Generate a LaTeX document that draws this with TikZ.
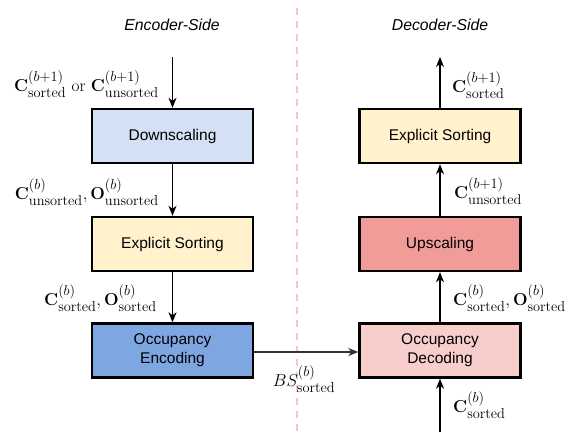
\documentclass[tikz,border=0pt]{standalone}
\usepackage[no-math]{fontspec}
\setmainfont{Liberation Sans}
\usetikzlibrary{arrows.meta}
\definecolor{cdown}{HTML}{D4E1F5}
\definecolor{csort}{HTML}{FFF2CC}
\definecolor{cenc}{HTML}{7EA6E0}
\definecolor{cup}{HTML}{F19C99}
\definecolor{cdec}{HTML}{F8CECC}
\definecolor{cdash}{HTML}{F4C7CC}
\newcommand{\so}{\mathrm{sorted}}
\newcommand{\us}{\mathrm{unsorted}}
\tikzset{
  blk/.style={draw=black, line width=2.4pt, minimum width=161pt, minimum height=54pt, align=center, font=\fontsize{15.5}{18}\selectfont, inner sep=0pt},
  flow/.style={line width=1.3pt, -{Stealth[length=10pt,width=8pt,inset=3pt]}},
  mlab/.style={font=\fontsize{19}{22}\selectfont, inner sep=0pt},
  ttl/.style={font=\fontsize{15.8}{18}\selectfont\itshape}
}
\begin{document}
\begin{tikzpicture}[x=1pt,y=-1pt]
\useasboundingbox[fill=white] (0,0) rectangle (569,432);
\draw[cdash, line width=1.5pt, dash pattern=on 7pt off 6pt] (297,8) -- (297,432);
\node[ttl] (te) at (172,25) {Encoder-Side};
\node[ttl] (td) at (440,25) {Decoder-Side};
\node[blk, fill=cdown] (down) at (172.5,136) {Downscaling};
\node[blk, fill=csort] (esl) at (172.5,244) {Explicit Sorting};
\node[blk, fill=cenc] (enc) at (172.5,350.5) {Occupancy\\[1pt]Encoding};
\node[blk, fill=csort] (esr) at (440,136) {Explicit Sorting};
\node[blk, fill=cup] (up) at (440,244) {Upscaling};
\node[blk, fill=cdec] (dec) at (440,350.5) {Occupancy\\[1pt]Decoding};
\coordinate (inl) at (172.5,57);
\coordinate (outr) at (440,57);
\coordinate (inr) at (440,432);
\draw[flow] (inl) -- (down);
\draw[flow] (down) -- (esl);
\draw[flow] (esl) -- (enc);
\draw[flow, draw=black!80, fill=black!80] (enc.east |- 0,352) -- (dec.west |- 0,352);
\draw[flow] (inr) -- (dec);
\draw[flow] (dec) -- (up);
\draw[flow] (up) -- (esr);
\draw[flow] (esr) -- (outr);
\node[mlab, anchor=east] (l1) at (159,84) {$\mathbf{C}^{(b+1)}_{\so}\ \mathrm{or}\ \mathbf{C}^{(b+1)}_{\us}$};
\node[mlab, anchor=east] (l2) at (159,192) {$\mathbf{C}^{(b)}_{\us},\mathbf{O}^{(b)}_{\us}$};
\node[mlab, anchor=east] (l3) at (157,298) {$\mathbf{C}^{(b)}_{\so},\mathbf{O}^{(b)}_{\so}$};
\node[mlab, anchor=west] (r1) at (452,85) {$\mathbf{C}^{(b+1)}_{\so}$};
\node[mlab, anchor=west] (r2) at (454,191) {$\mathbf{C}^{(b+1)}_{\us}$};
\node[mlab, anchor=west] (r3) at (453,298) {$\mathbf{C}^{(b)}_{\so},\mathbf{O}^{(b)}_{\so}$};
\node[mlab, anchor=west] (r4) at (453,405) {$\mathbf{C}^{(b)}_{\so}$};
\node[mlab] (bs) at (304,379) {$BS^{(b)}_{\so}$};
\end{tikzpicture}
\end{document}
